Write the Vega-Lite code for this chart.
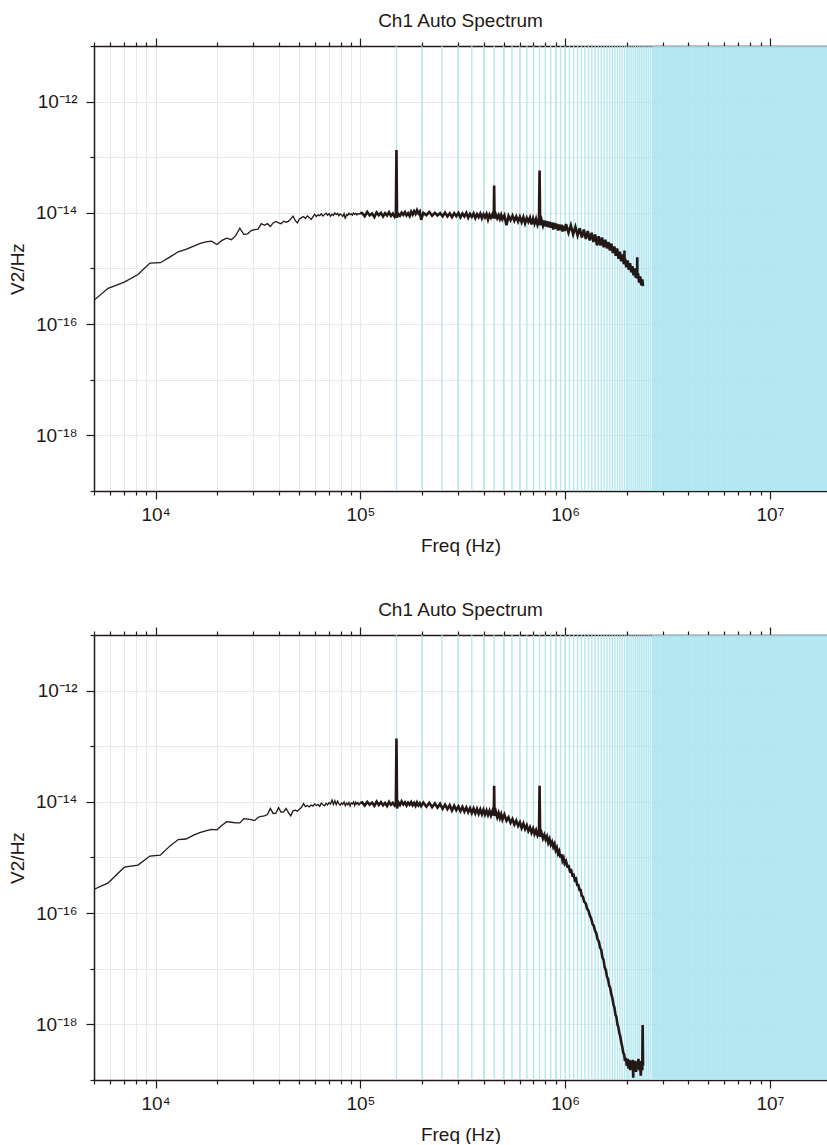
{
"$schema": "https://vega.github.io/schema/vega-lite/v6.json",
"padding": {"left": 8, "top": 12, "right": 0, "bottom": 0},
"spacing": 46,
"config": {
"font": "Liberation Sans",
"view": {"stroke": null},
"axis": {"domainColor": "#231815", "domainWidth": 1.5, "tickColor": "#231815", "tickWidth": 1.2, "labelColor": "#231815", "labelFontSize": 19, "titleColor": "#231815", "titleFontSize": 19, "titleFontWeight": "normal", "gridColor": "#e9e9e9", "gridWidth": 1, "labelFlush": false, "labelOverlap": false, "labelBound": false},
"title": {"fontSize": 19, "fontWeight": "normal", "color": "#231815", "frame": "group", "anchor": "middle", "offset": 6}
},
"datasets": {
"s": [{"a": 2640000, "b": 20000000}],
"h": [{"h":150000},{"h":200000},{"h":250000},{"h":300000},{"h":350000},{"h":400000},{"h":450000},{"h":500000},{"h":550000},{"h":600000},{"h":650000},{"h":700000},{"h":750000},{"h":800000},{"h":850000},{"h":900000},{"h":950000},{"h":1000000},{"h":1050000},{"h":1100000},{"h":1150000},{"h":1200000},{"h":1250000},{"h":1300000},{"h":1350000},{"h":1400000},{"h":1450000},{"h":1500000},{"h":1550000},{"h":1600000},{"h":1650000},{"h":1700000},{"h":1750000},{"h":1800000},{"h":1850000},{"h":1900000},{"h":1950000},{"h":2000000},{"h":2050000},{"h":2100000},{"h":2150000},{"h":2200000},{"h":2250000},{"h":2300000},{"h":2350000},{"h":2400000},{"h":2450000},{"h":2500000},{"h":2550000},{"h":2600000}],
"a": [
{"f":4688,"v":2.2e-16},{"f":5859,"v":4.4e-16},{"f":7031,"v":5.7e-16},{"f":8203,"v":7.8e-16},{"f":9375,"v":1.25e-15},{"f":10547,"v":1.27e-15},{"f":11719,"v":1.6e-15},{"f":12891,"v":2.0e-15},{"f":14063,"v":2.2e-15},{"f":15234,"v":2.5e-15},{"f":16406,"v":2.8e-15},{"f":17578,"v":3.0e-15},{"f":18750,"v":3.1e-15},{"f":19922,"v":2.7e-15},{"f":21094,"v":3.2e-15},{"f":22266,"v":3.5e-15},{"f":23438,"v":3.3e-15},{"f":24609,"v":3.9e-15},{"f":25781,"v":5.3e-15},{"f":26953,"v":4.1e-15},{"f":28125,"v":4.2e-15},{"f":29297,"v":4.8e-15},{"f":30469,"v":5.0e-15},{"f":31641,"v":5.1e-15},{"f":32813,"v":6.4e-15},{"f":33984,"v":6.0e-15},{"f":35156,"v":6.4e-15},{"f":36328,"v":5.7e-15},{"f":37500,"v":6.6e-15},{"f":38672,"v":7.0e-15},{"f":39844,"v":6.6e-15},{"f":41016,"v":6.4e-15},{"f":42188,"v":7.1e-15},{"f":43359,"v":6.8e-15},{"f":44531,"v":7.0e-15},{"f":45703,"v":7.8e-15},{"f":46875,"v":8.7e-15},{"f":48047,"v":7.3e-15},{"f":49219,"v":6.6e-15},{"f":50391,"v":7.8e-15},{"f":51563,"v":8.2e-15},{"f":52734,"v":8.6e-15},{"f":53906,"v":7.9e-15},{"f":55078,"v":8.8e-15},{"f":56250,"v":8.3e-15},{"f":57422,"v":7.6e-15},
{"f":58594,"v":8.5e-15},{"f":59766,"v":9.4e-15},{"f":60938,"v":8.6e-15},{"f":62109,"v":9.2e-15},{"f":63281,"v":8.9e-15},{"f":64453,"v":9.6e-15},{"f":65625,"v":8.8e-15},{"f":66797,"v":9.3e-15},{"f":67969,"v":9.9e-15},{"f":69141,"v":9.1e-15},{"f":70313,"v":9.7e-15},{"f":71484,"v":8.7e-15},{"f":72656,"v":9.5e-15},{"f":73828,"v":9.0e-15},{"f":75000,"v":1.0e-14},{"f":76172,"v":9.3e-15},{"f":77344,"v":9.8e-15},{"f":78516,"v":8.9e-15},{"f":79688,"v":9.6e-15},{"f":80859,"v":9.2e-15},{"f":82031,"v":8.6e-15},{"f":83203,"v":9.7e-15},{"f":84375,"v":7.8e-15},{"f":85547,"v":9.4e-15},{"f":86719,"v":9.0e-15},{"f":87891,"v":9.9e-15},{"f":89063,"v":9.3e-15},{"f":90234,"v":9.6e-15},{"f":91406,"v":9.1e-15},{"f":92578,"v":1.0e-14},{"f":93750,"v":9.4e-15},{"f":94922,"v":9.8e-15},{"f":96094,"v":9.2e-15},{"f":97266,"v":9.7e-15},{"f":98438,"v":9.5e-15},{"f":99609,"v":9.9e-15},
{"f":102000,"v":9.9e-15},{"f":105000,"v":8.7e-15},{"f":108000,"v":1.04e-14},{"f":111000,"v":9.0e-15},{"f":114000,"v":9.8e-15},{"f":117000,"v":8.4e-15},{"f":120000,"v":1.02e-14},{"f":123000,"v":9.1e-15},{"f":126000,"v":1.0e-14},{"f":129000,"v":8.6e-15},{"f":132000,"v":9.9e-15},{"f":135000,"v":9.0e-15},{"f":138000,"v":1.03e-14},{"f":141000,"v":8.8e-15},{"f":144000,"v":9.7e-15},{"f":147000,"v":8.5e-15},{"f":149000,"v":9.4e-15},{"f":150000,"v":1.35e-13},{"f":151000,"v":8.2e-15},{"f":153000,"v":9.6e-15},{"f":156000,"v":8.9e-15},{"f":159000,"v":1.01e-14},{"f":162000,"v":9.2e-15},{"f":165000,"v":1.03e-14},{"f":168000,"v":9.0e-15},{"f":171000,"v":9.9e-15},{"f":174000,"v":8.8e-15},{"f":177000,"v":1.05e-14},{"f":180000,"v":9.3e-15},{"f":183000,"v":1.07e-14},{"f":186000,"v":9.6e-15},{"f":189000,"v":1.12e-14},{"f":192000,"v":9.8e-15},{"f":195000,"v":1.06e-14},{"f":198000,"v":7.5e-15},
{"f":203000,"v":1.0e-14},{"f":210000,"v":9.1e-15},{"f":217000,"v":1.04e-14},{"f":224000,"v":8.9e-15},{"f":231000,"v":1.0e-14},{"f":238000,"v":9.0e-15},{"f":245000,"v":9.9e-15},{"f":252000,"v":8.7e-15},{"f":259000,"v":1.01e-14},{"f":266000,"v":8.6e-15},{"f":273000,"v":9.8e-15},{"f":280000,"v":8.4e-15},{"f":287000,"v":9.9e-15},{"f":294000,"v":8.7e-15},{"f":301000,"v":1.0e-14},{"f":308000,"v":8.3e-15},{"f":315000,"v":9.7e-15},{"f":322000,"v":8.6e-15},{"f":329000,"v":1.0e-14},{"f":336000,"v":8.2e-15},{"f":343000,"v":9.6e-15},{"f":350000,"v":8.5e-15},{"f":357000,"v":9.8e-15},{"f":364000,"v":8.1e-15},{"f":371000,"v":9.5e-15},{"f":378000,"v":8.4e-15},{"f":385000,"v":9.7e-15},{"f":392000,"v":8.0e-15},{"f":399000,"v":9.4e-15},{"f":406000,"v":8.3e-15},{"f":413000,"v":9.6e-15},{"f":420000,"v":7.6e-15},{"f":427000,"v":9.3e-15},{"f":434000,"v":8.2e-15},{"f":441000,"v":9.4e-15},{"f":448000,"v":8.0e-15},{"f":450000,"v":3.1e-14},{"f":452000,"v":7.9e-15},{"f":459000,"v":9.3e-15},{"f":466000,"v":8.0e-15},{"f":473000,"v":9.1e-15},{"f":480000,"v":7.8e-15},{"f":487000,"v":9.2e-15},{"f":494000,"v":7.7e-15},
{"f":505000,"v":9.0e-15},{"f":517000,"v":6.0e-15},{"f":529000,"v":8.8e-15},{"f":541000,"v":7.4e-15},{"f":553000,"v":8.9e-15},{"f":565000,"v":7.2e-15},{"f":577000,"v":8.6e-15},{"f":589000,"v":7.0e-15},{"f":601000,"v":8.5e-15},{"f":613000,"v":6.8e-15},{"f":625000,"v":8.4e-15},{"f":637000,"v":6.5e-15},{"f":649000,"v":8.1e-15},{"f":661000,"v":6.9e-15},{"f":673000,"v":8.2e-15},{"f":685000,"v":6.2e-15},{"f":697000,"v":7.9e-15},{"f":709000,"v":6.4e-15},{"f":721000,"v":7.8e-15},{"f":733000,"v":6.1e-15},{"f":745000,"v":7.3e-15},{"f":750000,"v":5.8e-14},{"f":755000,"v":6.0e-15},{"f":767000,"v":7.4e-15},{"f":779000,"v":5.9e-15},{"f":791000,"v":7.3e-15},{"f":803000,"v":5.7e-15},{"f":815000,"v":7.1e-15},{"f":827000,"v":5.5e-15},{"f":839000,"v":6.9e-15},{"f":851000,"v":5.4e-15},{"f":863000,"v":6.7e-15},{"f":875000,"v":5.0e-15},{"f":887000,"v":6.6e-15},{"f":899000,"v":5.2e-15},{"f":911000,"v":6.4e-15},{"f":923000,"v":4.8e-15},{"f":935000,"v":6.2e-15},{"f":947000,"v":4.9e-15},{"f":959000,"v":6.1e-15},{"f":971000,"v":4.6e-15},{"f":983000,"v":5.9e-15},{"f":995000,"v":4.7e-15},
{"f":1010000,"v":6.3e-15},{"f":1038000,"v":4.4e-15},{"f":1066000,"v":6.0e-15},{"f":1094000,"v":4.1e-15},{"f":1122000,"v":5.6e-15},{"f":1150000,"v":3.9e-15},{"f":1178000,"v":5.3e-15},{"f":1206000,"v":3.6e-15},{"f":1234000,"v":5.0e-15},{"f":1262000,"v":3.4e-15},{"f":1290000,"v":4.7e-15},{"f":1318000,"v":3.2e-15},{"f":1346000,"v":4.4e-15},{"f":1374000,"v":3.0e-15},{"f":1402000,"v":4.1e-15},{"f":1430000,"v":2.6e-15},{"f":1458000,"v":3.8e-15},{"f":1486000,"v":2.6e-15},{"f":1514000,"v":3.6e-15},{"f":1542000,"v":2.4e-15},{"f":1570000,"v":3.3e-15},{"f":1598000,"v":2.3e-15},{"f":1626000,"v":3.0e-15},{"f":1654000,"v":2.1e-15},{"f":1682000,"v":2.8e-15},{"f":1710000,"v":1.9e-15},{"f":1738000,"v":2.5e-15},{"f":1766000,"v":1.7e-15},{"f":1794000,"v":2.3e-15},{"f":1822000,"v":1.5e-15},{"f":1850000,"v":2.0e-15},{"f":1878000,"v":1.35e-15},{"f":1906000,"v":1.8e-15},{"f":1934000,"v":1.2e-15},{"f":1946000,"v":1.3e-15},{"f":1948000,"v":2.1e-15},{"f":1950000,"v":1.25e-15},{"f":1962000,"v":1.5e-15},{"f":1990000,"v":1.05e-15},{"f":2018000,"v":1.4e-15},{"f":2046000,"v":9.5e-16},{"f":2074000,"v":1.25e-15},{"f":2102000,"v":8.5e-16},{"f":2130000,"v":1.1e-15},{"f":2158000,"v":7.5e-16},{"f":2186000,"v":1.0e-15},{"f":2214000,"v":6.8e-16},{"f":2242000,"v":9.0e-16},{"f":2248000,"v":6.6e-16},{"f":2250000,"v":1.6e-15},{"f":2252000,"v":7.0e-16},{"f":2270000,"v":8.2e-16},{"f":2298000,"v":5.6e-16},{"f":2326000,"v":7.2e-16},{"f":2354000,"v":5.0e-16},{"f":2382000,"v":6.4e-16},{"f":2400000,"v":4.8e-16}
],
"b": [
{"f":4688,"v":2.4e-16},{"f":5859,"v":3.5e-16},{"f":7031,"v":6.7e-16},{"f":8203,"v":7.3e-16},{"f":9375,"v":1.06e-15},{"f":10547,"v":1.1e-15},{"f":11719,"v":1.6e-15},{"f":12891,"v":2.1e-15},{"f":14063,"v":2.15e-15},{"f":15234,"v":2.5e-15},{"f":16406,"v":2.8e-15},{"f":17578,"v":3.0e-15},{"f":18750,"v":3.2e-15},{"f":19922,"v":3.15e-15},{"f":21094,"v":3.8e-15},{"f":22266,"v":4.4e-15},{"f":23438,"v":4.3e-15},{"f":24609,"v":4.2e-15},{"f":25781,"v":4.2e-15},{"f":26953,"v":5.0e-15},{"f":28125,"v":4.9e-15},{"f":29297,"v":4.8e-15},{"f":30469,"v":4.6e-15},{"f":31641,"v":5.3e-15},{"f":32813,"v":5.5e-15},{"f":33984,"v":5.6e-15},{"f":35156,"v":5.9e-15},{"f":36328,"v":7.6e-15},{"f":37500,"v":6.2e-15},{"f":38672,"v":6.3e-15},{"f":39844,"v":7.9e-15},{"f":41016,"v":6.5e-15},{"f":42188,"v":6.6e-15},{"f":43359,"v":7.6e-15},{"f":44531,"v":6.4e-15},{"f":45703,"v":5.6e-15},{"f":46875,"v":6.9e-15},{"f":48047,"v":7.1e-15},{"f":49219,"v":6.8e-15},{"f":50391,"v":7.4e-15},{"f":51563,"v":8.0e-15},{"f":52734,"v":9.3e-15},{"f":53906,"v":8.2e-15},{"f":55078,"v":8.6e-15},{"f":56250,"v":8.1e-15},{"f":57422,"v":8.8e-15},
{"f":58594,"v":8.4e-15},{"f":59766,"v":9.2e-15},{"f":60938,"v":8.6e-15},{"f":62109,"v":9.0e-15},{"f":63281,"v":8.3e-15},{"f":64453,"v":9.5e-15},{"f":65625,"v":8.9e-15},{"f":66797,"v":8.5e-15},{"f":67969,"v":9.4e-15},{"f":69141,"v":8.8e-15},{"f":70313,"v":9.7e-15},{"f":71484,"v":9.1e-15},{"f":72656,"v":1.08e-14},{"f":73828,"v":9.0e-15},{"f":75000,"v":1.05e-14},{"f":76172,"v":8.9e-15},{"f":77344,"v":1.03e-14},{"f":78516,"v":9.2e-15},{"f":79688,"v":8.7e-15},{"f":80859,"v":9.6e-15},{"f":82031,"v":9.0e-15},{"f":83203,"v":1.0e-14},{"f":84375,"v":8.5e-15},{"f":85547,"v":9.5e-15},{"f":86719,"v":8.9e-15},{"f":87891,"v":9.8e-15},{"f":89063,"v":8.4e-15},{"f":90234,"v":9.6e-15},{"f":91406,"v":9.2e-15},{"f":92578,"v":1.0e-14},{"f":93750,"v":8.6e-15},{"f":94922,"v":9.9e-15},{"f":96094,"v":9.1e-15},{"f":97266,"v":9.7e-15},{"f":98438,"v":8.8e-15},{"f":99609,"v":9.5e-15},
{"f":102000,"v":9.8e-15},{"f":105000,"v":8.6e-15},{"f":108000,"v":1.0e-14},{"f":111000,"v":8.9e-15},{"f":114000,"v":9.7e-15},{"f":117000,"v":8.5e-15},{"f":120000,"v":1.01e-14},{"f":123000,"v":8.8e-15},{"f":126000,"v":9.9e-15},{"f":129000,"v":8.7e-15},{"f":132000,"v":9.6e-15},{"f":135000,"v":8.4e-15},{"f":138000,"v":1.0e-14},{"f":141000,"v":8.9e-15},{"f":144000,"v":9.6e-15},{"f":147000,"v":8.6e-15},{"f":149000,"v":9.2e-15},{"f":150000,"v":1.38e-13},{"f":151000,"v":7.6e-15},{"f":153000,"v":9.9e-15},{"f":156000,"v":8.8e-15},{"f":159000,"v":1.02e-14},{"f":162000,"v":9.0e-15},{"f":165000,"v":9.8e-15},{"f":168000,"v":8.6e-15},{"f":171000,"v":9.7e-15},{"f":174000,"v":8.9e-15},{"f":177000,"v":9.9e-15},{"f":180000,"v":8.7e-15},{"f":183000,"v":9.6e-15},{"f":186000,"v":8.5e-15},{"f":189000,"v":9.8e-15},{"f":192000,"v":8.7e-15},{"f":195000,"v":9.5e-15},{"f":198000,"v":8.4e-15},
{"f":203000,"v":9.7e-15},{"f":210000,"v":8.2e-15},{"f":217000,"v":9.6e-15},{"f":224000,"v":8.0e-15},{"f":231000,"v":9.4e-15},{"f":238000,"v":7.9e-15},{"f":245000,"v":9.2e-15},{"f":252000,"v":7.5e-15},{"f":259000,"v":8.9e-15},{"f":266000,"v":7.4e-15},{"f":273000,"v":8.7e-15},{"f":280000,"v":7.0e-15},{"f":287000,"v":8.5e-15},{"f":294000,"v":7.1e-15},{"f":301000,"v":8.3e-15},{"f":308000,"v":6.8e-15},{"f":315000,"v":8.1e-15},{"f":322000,"v":6.7e-15},{"f":329000,"v":7.9e-15},{"f":336000,"v":6.5e-15},{"f":343000,"v":7.7e-15},{"f":350000,"v":6.3e-15},{"f":357000,"v":7.6e-15},{"f":364000,"v":6.2e-15},{"f":371000,"v":7.5e-15},{"f":378000,"v":6.1e-15},{"f":385000,"v":7.3e-15},{"f":392000,"v":6.0e-15},{"f":399000,"v":7.2e-15},{"f":406000,"v":5.9e-15},{"f":413000,"v":7.0e-15},{"f":420000,"v":5.8e-15},{"f":427000,"v":6.9e-15},{"f":434000,"v":5.7e-15},{"f":441000,"v":6.8e-15},{"f":448000,"v":5.7e-15},{"f":450000,"v":1.95e-14},{"f":452000,"v":5.6e-15},{"f":459000,"v":6.6e-15},{"f":466000,"v":5.3e-15},{"f":473000,"v":6.3e-15},{"f":480000,"v":5.1e-15},{"f":487000,"v":6.0e-15},{"f":494000,"v":4.8e-15},
{"f":505000,"v":5.9e-15},{"f":517000,"v":4.6e-15},{"f":529000,"v":5.3e-15},{"f":541000,"v":4.2e-15},{"f":553000,"v":4.9e-15},{"f":565000,"v":3.9e-15},{"f":577000,"v":4.6e-15},{"f":589000,"v":3.7e-15},{"f":601000,"v":4.3e-15},{"f":613000,"v":3.4e-15},{"f":625000,"v":4.1e-15},{"f":637000,"v":3.25e-15},{"f":649000,"v":3.8e-15},{"f":661000,"v":3.0e-15},{"f":673000,"v":3.5e-15},{"f":685000,"v":2.8e-15},{"f":697000,"v":3.3e-15},{"f":709000,"v":2.65e-15},{"f":721000,"v":3.1e-15},{"f":733000,"v":2.5e-15},{"f":745000,"v":2.9e-15},{"f":750000,"v":1.95e-14},{"f":755000,"v":2.35e-15},{"f":767000,"v":2.75e-15},{"f":779000,"v":2.2e-15},{"f":791000,"v":2.55e-15},{"f":803000,"v":2.1e-15},{"f":815000,"v":2.4e-15},{"f":827000,"v":1.85e-15},{"f":839000,"v":2.15e-15},{"f":851000,"v":1.7e-15},{"f":863000,"v":1.9e-15},{"f":875000,"v":1.55e-15},{"f":887000,"v":1.75e-15},{"f":899000,"v":1.35e-15},{"f":911000,"v":1.5e-15},{"f":923000,"v":1.18e-15},{"f":935000,"v":1.3e-15},{"f":947000,"v":1.0e-15},{"f":959000,"v":1.15e-15},{"f":971000,"v":8.8e-16},{"f":983000,"v":9.8e-16},{"f":995000,"v":7.8e-16},
{"f":1010000,"v":8.6e-16},{"f":1025000,"v":6.9e-16},{"f":1040000,"v":7.0e-16},{"f":1055000,"v":5.7e-16},{"f":1070000,"v":5.9e-16},{"f":1085000,"v":4.8e-16},{"f":1100000,"v":4.9e-16},{"f":1115000,"v":3.9e-16},{"f":1130000,"v":4.1e-16},{"f":1145000,"v":3.2e-16},{"f":1160000,"v":3.2e-16},{"f":1175000,"v":2.6e-16},{"f":1190000,"v":2.6e-16},{"f":1205000,"v":2.05e-16},{"f":1220000,"v":2.0e-16},{"f":1240000,"v":1.6e-16},{"f":1260000,"v":1.5e-16},{"f":1280000,"v":1.2e-16},{"f":1300000,"v":1.1e-16},{"f":1320000,"v":9.0e-17},{"f":1340000,"v":8.0e-17},{"f":1360000,"v":6.4e-17},{"f":1380000,"v":5.9e-17},{"f":1400000,"v":4.8e-17},{"f":1420000,"v":4.3e-17},{"f":1440000,"v":3.4e-17},{"f":1460000,"v":3.1e-17},{"f":1480000,"v":2.4e-17},{"f":1500000,"v":2.2e-17},{"f":1520000,"v":1.6e-17},{"f":1540000,"v":1.45e-17},{"f":1560000,"v":1.05e-17},{"f":1580000,"v":9.5e-18},{"f":1600000,"v":7.2e-18},{"f":1620000,"v":6.5e-18},{"f":1640000,"v":5.0e-18},{"f":1660000,"v":4.5e-18},{"f":1680000,"v":3.5e-18},{"f":1700000,"v":3.0e-18},{"f":1720000,"v":2.3e-18},{"f":1740000,"v":2.0e-18},{"f":1760000,"v":1.5e-18},{"f":1780000,"v":1.35e-18},{"f":1800000,"v":1.0e-18},{"f":1820000,"v":8.8e-19},{"f":1840000,"v":7.0e-19},{"f":1860000,"v":6.0e-19},{"f":1880000,"v":4.7e-19},{"f":1900000,"v":4.0e-19},{"f":1920000,"v":3.1e-19},{"f":1940000,"v":2.9e-19},{"f":1960000,"v":2.2e-19},{"f":1980000,"v":2.5e-19},{"f":2000000,"v":1.8e-19},{"f":2020000,"v":2.4e-19},{"f":2040000,"v":1.6e-19},{"f":2060000,"v":2.3e-19},{"f":2080000,"v":1.5e-19},{"f":2100000,"v":2.2e-19},{"f":2120000,"v":1.6e-19},{"f":2140000,"v":2.3e-19},{"f":2150000,"v":1.1e-19},{"f":2160000,"v":2.1e-19},{"f":2180000,"v":1.5e-19},{"f":2200000,"v":2.2e-19},{"f":2220000,"v":1.4e-19},{"f":2240000,"v":2.1e-19},{"f":2260000,"v":1.6e-19},{"f":2280000,"v":2.4e-19},{"f":2300000,"v":1.5e-19},{"f":2320000,"v":2.2e-19},{"f":2340000,"v":1.2e-19},{"f":2360000,"v":2.1e-19},{"f":2380000,"v":1.5e-19},{"f":2390000,"v":9.7e-19},{"f":2400000,"v":1.8e-19}
]
},
"vconcat": [
{
"width": 733, "height": 445,
"title": {"text": "Ch1 Auto Spectrum"},
"resolve": {"axis": {"x": "independent"}},
"layer": [
{"data": {"name": "s"}, "mark": {"type": "rect", "color": "#a6e3ee", "opacity": 0.85, "clip": true},
 "encoding": {"x": {"field": "a", "type": "quantitative", "scale": {"type": "log", "domain": [5000, 19000000], "nice": false}, "axis": null}, "x2": {"field": "b"}}},
{"data": {"name": "h"}, "mark": {"type": "rule", "color": "#a6e3ee", "opacity": 0.85, "strokeWidth": 1.4, "clip": true},
 "encoding": {"x": {"field": "h", "type": "quantitative", "scale": {"type": "log", "domain": [5000, 19000000], "nice": false},
  "axis": {"orient": "top", "title": null, "labels": false, "grid": false, "values": [5000,6000,7000,8000,9000,10000,20000,30000,40000,50000,60000,70000,80000,90000,100000,200000,300000,400000,500000,600000,700000,800000,900000,1000000,2000000,3000000,4000000,5000000,6000000,7000000,8000000,9000000,10000000],
   "tickSize": {"condition": {"test": "indexof([10000,100000,1000000,10000000], datum.value) >= 0", "value": 8}, "value": 4}}}}},
{"data": {"name": "a"}, "transform": [{"filter": "datum.f < 100000"}], "mark": {"type": "line", "color": "#231815", "strokeWidth": 1.3, "clip": true},
 "encoding": {
  "x": {"field": "f", "type": "quantitative", "scale": {"type": "log", "domain": [5000, 19000000], "nice": false},
   "axis": {"orient": "bottom", "title": "Freq (Hz)", "grid": true, "values": [5000,6000,7000,8000,9000,10000,20000,30000,40000,50000,60000,70000,80000,90000,100000,200000,300000,400000,500000,600000,700000,800000,900000,1000000,2000000,3000000,4000000,5000000,6000000,7000000,8000000,9000000,10000000],
    "labelExpr": "datum.value==10000?'10⁴':datum.value==100000?'10⁵':datum.value==1000000?'10⁶':datum.value==10000000?'10⁷':''",
    "tickSize": {"condition": {"test": "indexof([10000,100000,1000000,10000000], datum.value) >= 0", "value": 8}, "value": 4},
    "labelPadding": 6, "titlePadding": 12}},
  "y": {"field": "v", "type": "quantitative", "scale": {"type": "log", "domain": [1e-19, 1e-11], "nice": false},
   "axis": {"title": "V2/Hz", "grid": true, "values": [1e-19,1e-18,1e-17,1e-16,1e-15,1e-14,1e-13,1e-12,1e-11],
    "labelExpr": "datum.value==1e-12?'10⁻¹²':datum.value==1e-14?'10⁻¹⁴':datum.value==1e-16?'10⁻¹⁶':datum.value==1e-18?'10⁻¹⁸':''",
    "tickSize": {"condition": {"test": "datum.value==1e-12||datum.value==1e-14||datum.value==1e-16||datum.value==1e-18", "value": 8}, "value": 4},
    "labelPadding": 9, "titlePadding": 8}}}},
{"data": {"name": "a"}, "transform": [{"filter": "datum.f >= 99000"}], "mark": {"type": "line", "color": "#231815", "strokeWidth": 2.6, "clip": true},
 "encoding": {
  "x": {"field": "f", "type": "quantitative", "scale": {"type": "log", "domain": [5000, 19000000], "nice": false}, "axis": null},
  "y": {"field": "v", "type": "quantitative", "scale": {"type": "log", "domain": [1e-19, 1e-11], "nice": false}}}}
]
},
{
"width": 733, "height": 445,
"title": {"text": "Ch1 Auto Spectrum"},
"resolve": {"axis": {"x": "independent"}},
"layer": [
{"data": {"name": "s"}, "mark": {"type": "rect", "color": "#a6e3ee", "opacity": 0.85, "clip": true},
 "encoding": {"x": {"field": "a", "type": "quantitative", "scale": {"type": "log", "domain": [5000, 19000000], "nice": false}, "axis": null}, "x2": {"field": "b"}}},
{"data": {"name": "h"}, "mark": {"type": "rule", "color": "#a6e3ee", "opacity": 0.85, "strokeWidth": 1.4, "clip": true},
 "encoding": {"x": {"field": "h", "type": "quantitative", "scale": {"type": "log", "domain": [5000, 19000000], "nice": false},
  "axis": {"orient": "top", "title": null, "labels": false, "grid": false, "values": [5000,6000,7000,8000,9000,10000,20000,30000,40000,50000,60000,70000,80000,90000,100000,200000,300000,400000,500000,600000,700000,800000,900000,1000000,2000000,3000000,4000000,5000000,6000000,7000000,8000000,9000000,10000000],
   "tickSize": {"condition": {"test": "indexof([10000,100000,1000000,10000000], datum.value) >= 0", "value": 8}, "value": 4}}}}},
{"data": {"name": "b"}, "transform": [{"filter": "datum.f < 100000"}], "mark": {"type": "line", "color": "#231815", "strokeWidth": 1.3, "clip": true},
 "encoding": {
  "x": {"field": "f", "type": "quantitative", "scale": {"type": "log", "domain": [5000, 19000000], "nice": false},
   "axis": {"orient": "bottom", "title": "Freq (Hz)", "grid": true, "values": [5000,6000,7000,8000,9000,10000,20000,30000,40000,50000,60000,70000,80000,90000,100000,200000,300000,400000,500000,600000,700000,800000,900000,1000000,2000000,3000000,4000000,5000000,6000000,7000000,8000000,9000000,10000000],
    "labelExpr": "datum.value==10000?'10⁴':datum.value==100000?'10⁵':datum.value==1000000?'10⁶':datum.value==10000000?'10⁷':''",
    "tickSize": {"condition": {"test": "indexof([10000,100000,1000000,10000000], datum.value) >= 0", "value": 8}, "value": 4},
    "labelPadding": 6, "titlePadding": 12}},
  "y": {"field": "v", "type": "quantitative", "scale": {"type": "log", "domain": [1e-19, 1e-11], "nice": false},
   "axis": {"title": "V2/Hz", "grid": true, "values": [1e-19,1e-18,1e-17,1e-16,1e-15,1e-14,1e-13,1e-12,1e-11],
    "labelExpr": "datum.value==1e-12?'10⁻¹²':datum.value==1e-14?'10⁻¹⁴':datum.value==1e-16?'10⁻¹⁶':datum.value==1e-18?'10⁻¹⁸':''",
    "tickSize": {"condition": {"test": "datum.value==1e-12||datum.value==1e-14||datum.value==1e-16||datum.value==1e-18", "value": 8}, "value": 4},
    "labelPadding": 9, "titlePadding": 8}}}},
{"data": {"name": "b"}, "transform": [{"filter": "datum.f >= 99000"}], "mark": {"type": "line", "color": "#231815", "strokeWidth": 2.6, "clip": true},
 "encoding": {
  "x": {"field": "f", "type": "quantitative", "scale": {"type": "log", "domain": [5000, 19000000], "nice": false}, "axis": null},
  "y": {"field": "v", "type": "quantitative", "scale": {"type": "log", "domain": [1e-19, 1e-11], "nice": false}}}}
]
}
]
}
